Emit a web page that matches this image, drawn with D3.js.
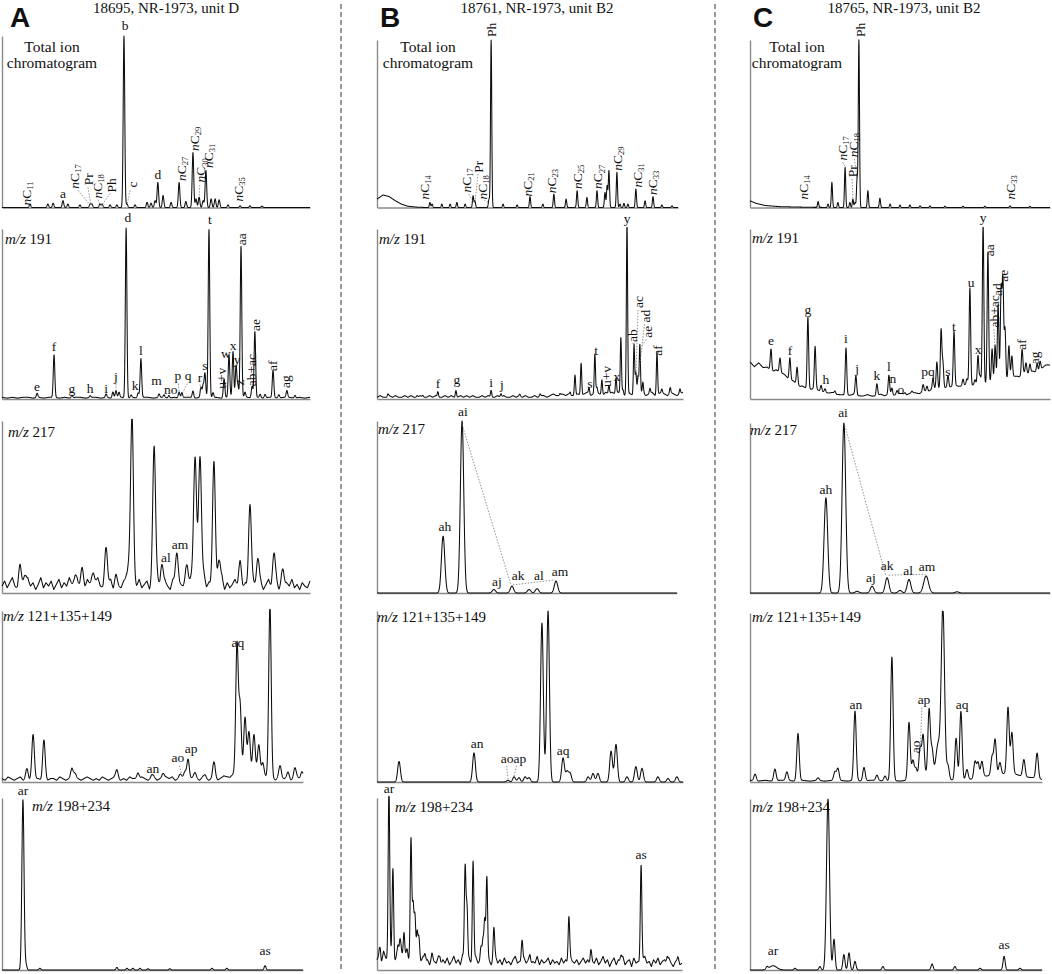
<!DOCTYPE html>
<html>
<head>
<meta charset="utf-8">
<script src="https://cdn.jsdelivr.net/npm/d3@7"></script>
<style>
  body { margin: 0; background: #fff; }
  text { font-family: "Liberation Serif", "Times New Roman", serif; fill: #111; }
</style>
</head>
<body>
<div id="chart"></div>
<script>
// ---------- data ----------
// retention position in % of the scan, height in % of the panel's full scale
var letters = ["A", "B", "C"];
var titles = ["18695, NR-1973, unit D", "18761, NR-1973, unit B2", "18765, NR-1973, unit B2"];
var rowNames = ["Total ion chromatogram", "m/z 191", "m/z 217", "m/z 121+135+149", "m/z 198+234"];

// peaks: [rt, height, (width)] ; labels: [text, rt, height, rotated] ; leads: [rt1, h1, rt2, h2]
var peaksA1 = [[9.1,2],[14.9,2],[16.6,2.5],[19.8,4],[21.4,2],[25.3,1.5],[28.6,2],[29.2,2],[31.8,2],[32.5,2],[35.1,1.5],[37.3,1.5],[39.6,100],[40.6,2],[43.2,1.5],[47.1,3],[48.4,2.5],[49.7,4],[50.6,14.6],[52.3,7],[54.9,3],[57.5,14.6],[59.7,3.5],[62.0,32],[63.0,5],[64.0,6],[65.3,4],[66.2,21.6],[67.9,5],[69.2,5],[70.5,4.5],[73.4,1.5],[77.3,1],[80.5,1],[84.4,0.8]];
var labelsA1 = [["nC11",7.8,1.2,1],["a",19.8,5.8,0],["nC17",23.4,11,1],["Pr",27.9,13,1],["nC18",30.8,5.3,1],["Ph",35.4,8.8,1],["b",40,103.5,0],["c",42.2,11.7,1],["d",50.6,16.4,0],["nC27",58.1,15.5,1],["nC29",62.3,33,1],["nC30",64.4,14.6,1],["nC31",66.9,23,1],["nC35",76.6,3.5,1]];
var leadsA1 = [[24.7,10,28.6,1.5],[27.9,11.7,28.9,1.5],[31.2,4.5,31.8,1.5],[35.1,8.2,32.5,1.5],[41.6,10,40.6,1.5],[64.2,13,64.0,6]];

var peaksA2 = [[11.4,2.5],[16.9,25],[22.7,1.5],[28.6,1],[33.8,2],[36.0,3.5],[37.0,4],[38.0,3],[40.3,100],[41.9,1.5],[44.2,3],[45.1,23],[51.0,2],[52.6,1.5],[54.2,1.5],[57.5,3.5],[58.4,3],[62.0,4],[64.6,6],[65.3,7],[65.9,14],[67.2,99],[68.5,3],[72.1,11],[73.7,25],[75.0,27],[76.0,19],[76.6,7],[77.6,89],[78.9,3],[81.2,7],[82.1,39],[83.8,2],[85.4,2],[88.0,16],[89.9,2],[92.5,4],[95.1,1.5]];
var labelsA2 = [["d",40.9,104,0],["t",67.5,103,0],["aa",77.6,90.5,1],["ae",82.1,40,1],["f",16.9,28,0],["l",45.1,26,0],["e",11.4,4.7,0],["g",22.7,3.5,0],["h",28.6,3.5,0],["i",33.8,3.5,0],["j",37.0,10.6,0],["k",43.2,5.3,0],["m",50.2,8.5,0],["no",54.8,3,0],["p",57.1,11,0],["q",60.4,11,0],["r",64.3,10,0],["s",65.9,17,0],["u+v",71.3,6,1],["w",72.7,24,0],["x",75.0,29,0],["y",76.3,20.6,0],["z",77.0,8,1],["ab+ac",80.8,7.5,1],["af",87.7,16.5,1],["ag",91.9,6.5,1]];
var leadsA2 = [[37.0,9,37.0,4.5],[57.3,9,57.5,3.5],[60.2,9,58.4,3],[64.3,8.5,64.6,6]];
var noiseA2 = [1,0.5,1,0.5,1,1,0.5,1,0.5,1,1,0.5,1,0.5,1,1,0.5,1,1,0.5,1,0.5,1,1,0.5,1,0.5,1,1,0.5,1,1,0.5,1,0.5,1,1,0.5,1,1,0.5,1,0.5,1,1,0.5,1,1,0.5,1,0.5,1,1,0.5,1,1,0.5,1,0.5,1];

var peaksA3 = [[5.8,10],[7.5,7],[23.7,7],[26,9],[29.5,9],[33.8,20],[37,5],[41.2,10],[42.2,100],[49.4,81],[51.9,12],[56.8,19],[60.1,11],[62.7,65],[63.5,10,1.5],[64.3,66],[68.8,70],[70.5,15],[77.3,12],[80.5,47],[83.1,17],[88.3,19],[91.2,10]];
var labelsA3 = [["al",53.2,18,0],["am",57.8,25.5,0]];
var noiseA3 = [4,7,3,6,9,4,2,7,5,3,8,4,6,2,5,9,3,6,4,7,2,5,8,3,6,4,9,5,2,7,4,6,3,8,5,2,6,9,4,3,7,5,8,2,6,4,3,7,9,5,2,6,4,8,3,5,7,2,6,4,9,3,5,7,4,2,8,6,3,5,4,7,2,6,9,3,5,4,8,2,6,3,7,5,4,9,2,6,3,5,8,4,7,3,6,2,5,7,4,3,6,2,5,8,3,4,7,2,5,3,6,4,8,3,5,2,6,4,3,7];

var peaksA4 = [[8.1,6],[10.1,25],[13.6,22],[22.7,5],[23.7,4],[37.3,5],[44.2,4],[48.7,2],[52.3,3],[57.8,2],[59.4,4],[60.4,12],[62.7,3],[65.9,2],[68.8,9],[76.3,74],[77.3,38],[78.9,30],[80.2,21],[81.8,21],[83.4,16],[84.7,8],[87.0,100],[90.3,7],[92.9,3],[95.1,6],[97.4,4],[79.5,6,3.5]];
var labelsA4 = [["an",49,5.3,0],["ao",57.1,11.7,0],["ap",61.4,17,0],["aq",76.6,79,0]];
var leadsA4 = [[57.6,9.5,58.6,3]];
var noiseA4 = [2,1,3,2,1,2,3,1,2,1,3,2,2,1,3,1,2,2,1,3,2,1,2,3,1,2,1,2,3,2,1,2,1,3,2,1,2,3,2,1,2,1,3,2,2,1,3,2,1,2,3,1,2,2,3,2,3,1,2,3,2,1,2,3,2,1,3,2,1,2,3,1,2,3,2,1,2,3,2,1,2,3,1,2,3,2,1,2,3,2,1,3,2,2,3,1,2,3,2,2];

var peaksA5 = [[6.8,99,0.35],[7.8,3],[12.3,1],[37.3,1.5],[40.6,1],[42.5,1],[44.8,1],[47.4,0.7],[54.5,0.7],[68.2,1],[73,1],[85.4,2.5]];
var labelsA5 = [["ar",6.8,102,0],["as",85.4,8.7,0]];

var baseB1 = [[0,5],[2,7.5],[4,6.5],[6,4],[8,2],[10,0.8],[13,0.2],[16,0]];
var peaksB1 = [[17.3,3],[18,2],[21.2,2],[23.9,2],[26.1,3],[28.8,2],[31.4,7],[32,4],[36.6,5],[37.3,100],[41.2,2],[45.8,1.5],[50,6.5],[54.2,2],[57.8,8],[61.8,5],[65.4,10],[68.6,6],[71.9,10],[74.5,9],[75.2,13],[75.8,22],[78.4,21],[79.4,2],[80.7,2.5],[82,2],[84.6,11],[87.6,4],[90.2,6.5],[93.1,1.5],[96.4,1]];
var labelsB1 = [["Ph",37.3,101.8,1],["nC14",15.4,4.8,1],["nC17",29.1,9,1],["Pr",33,20.8,1],["nC18",34.3,4.8,1],["nC21",49,6.5,1],["nC23",56.9,8.5,1],["nC25",65.4,11,1],["nC27",72,11,1],["nC29",78.4,22,1],["nC31",85,12,1],["nC33",89.9,7.5,1]];
var leadsB1 = [[30,8,31.4,3.5],[33,20,32,3],[35,4.5,36.6,3]];

var peaksB2 = [[3.6,1.5],[13.1,1],[15,1],[19.9,3],[25.8,4],[37.3,4],[40.5,2],[46.7,1],[53.3,1.2],[59.8,1],[63.1,1.5],[64.7,12],[66.7,19],[69.3,4],[71.2,23],[71.9,3],[73.5,9],[75.8,5],[78.1,9],[79.7,33],[80.4,3],[81.7,100],[84,30],[84.6,12],[85.3,10],[85.9,29],[86.9,6],[89.2,3],[91.5,25],[93.1,2],[95.8,3],[99,3]];
var labelsB2 = [["y",81.7,103.5,0],["t",71.6,26,0],["s",69.6,6.5,0],["f",19.9,6.5,0],["g",26.1,8.8,0],["i",37.3,7,0],["j",40.8,6,0],["u+v",74.8,7,1],["x",78.4,10.6,0],["ab",83.5,33.5,1],["ac",85.5,53.5,1],["ad",87.6,45,1],["ae",88.2,36,1],["af",91.5,25.5,1]];
var leadsB2 = [[85.3,52.5,84.6,12.5],[87.4,44,85.3,10.5],[88,35,85.9,29.5],[83.6,33,84,30.5]];
var noiseB2 = [1,2,1,1,2,1,2,1,1,2,1,2,1,1,2,1,1,2,1,2,1,1,2,1,2,1,1,2,1,2,1,2,1,1,2,1,2,1,1,2,1,2,1,1,2,1,2,1,2,1,1,2,1,2,2,1,2,3,2,2,3,2,3,2,2,3,2,3,4,2,3,4,3,2,4,3,4,3,4,3,2,4,3,2,4,3,4,2,3,4,2,3,4,3,2,4,3,2,3,4];

var peaksB3 = [[21.6,33],[27.8,100],[38.2,2],[44.1,4],[49.7,2],[52.3,2.5],[58.5,7]];
var labelsB3 = [["ai",28.1,103,0],["ah",22.2,36,0],["aj",39.2,4,0],["ak",46.1,7.6,0],["al",52.9,7.6,0],["am",59.8,10,0]];
var leadsB3 = [[27.8,98,43.8,4.5],[44.4,4.7,58.2,7.6]];

var peaksB4 = [[7.2,12],[31.7,17],[42.8,1],[44.8,3],[46.4,2.5],[48.4,3],[49.7,2.5],[53.9,93],[55.9,100],[60.8,14],[62.1,6],[63.1,5],[69,3],[70.6,5],[72.2,5],[76.5,18],[78.1,22],[81.7,3],[84.6,9],[86.6,8],[91.8,3],[95.1,2],[98,3]];
var labelsB4 = [["an",32.7,20,0],["ao",42.5,11,0],["ap",46.7,11,0],["aq",60.8,16,0]];
var leadsB4 = [[42.4,9.5,42.8,1.5],[45.6,9.5,44.8,3.5]];

var peaksB5 = [[1,6],[3.9,100],[5.2,52],[6.9,7],[7.5,9],[8.8,16],[9.8,5],[11.1,70],[11.8,30],[12.4,26],[13.1,18],[13.7,12],[15.7,5],[18,3],[20.6,3],[28.8,55],[29.4,32],[31.4,58],[34,9],[34.6,13],[35.2,22],[35.9,50],[38.2,19],[47.4,14],[50,5],[62.7,26],[69.9,8],[79.7,4],[86.3,57],[94.8,4],[98.4,2]];
var labelsB5 = [["ar",3.9,103,0],["as",86.3,64.5,0]];
var noiseB5 = [6,9,4,11,7,5,10,8,4,9,6,12,5,8,7,4,9,6,3,7,5,8,4,6,3,7,5,4,8,3,6,4,7,3,5,8,4,6,3,9,5,4,7,3,6,8,4,5,3,7,4,6,3,5,8,4,6,3,7,4,5,3,6,8,4,5,3,7,4,6,3,5,4,8,3,6,4,5,7,3,6,4,5,3,7,4,6,3,8,5,4,6,3,5,7,4,6,3,5,4,7,3,5,8,4,6,2,5,7,3,6,4,8,3,5,6,2,7,4,5,3,6,8,4,5,2,6,4,7,3,5,6,3,7,4,2,5,6,3,4];

var baseC1 = [[0,4],[2,2.5],[5,1.2],[10,0.5],[20,0.1],[30,0]];
var peaksC1 = [[22.7,3.5],[26,2],[27.3,15],[29.3,3],[31.7,24],[33.3,3],[34.3,5],[35,3],[35.7,17],[36.3,100],[39.3,10],[43.3,5.5],[46.7,2],[50,1.5],[53.3,1.5],[56.7,1],[60,1],[65,0.8],[71,0.8],[78.3,0.8],[86.7,1],[93.3,0.7]];
var labelsC1 = [["Ph",36.7,101.8,1],["nC14",17.7,4.8,1],["nC17",30.7,28,1],["nC18",34.3,30,1],["Pr",34,18,1],["nC33",86.7,4.8,1]];
var leadsC1 = [[30.9,27,31.7,24.5],[34.8,29,35.7,17.5],[34,17,34.3,5.5]];

var baseC2 = [[0,18.8],[11,13],[16.7,5.9],[22.3,4.1],[27.7,1.8],[39,0.6],[50,1.2],[55.7,1.8],[61,4.1],[72.3,5.9],[83.3,7.6],[89,11.8],[94.3,13.5],[99.3,17.6],[100,18]];
var peaksC2 = [[7,13],[10,8.5],[13.3,13],[15.7,10.4],[19.3,42],[21.7,24.7],[23.7,3.5],[25,2],[28.3,1.5],[32,27.7],[35.3,11],[42.3,7],[46.3,11],[47.3,4],[49,2],[51.7,1],[54,1],[57.7,4],[59,3],[61,6],[62.3,15.5],[63.7,35],[64.3,15],[66,7],[68,31.7],[71,4],[72.3,3],[73.3,57],[75,3],[76,16.7],[76.7,4],[77.7,93.5],[79.3,76.7],[80.7,20],[81.7,22],[82.7,45],[83.7,53],[84.3,58.5],[85,30],[86.3,19],[87.3,12],[90.7,14.7],[92,6],[93.3,5],[95.7,5],[96.7,5]];
var labelsC2 = [["y",77.7,104,0],["aa",79.7,84,1],["u",73.7,66,0],["ae",84.3,69,1],["ad",82.3,60.6,1],["ab+ac",81.3,42,1],["t",68,40,0],["x",76,26.5,0],["g",19.3,50,0],["e",7,31.8,0],["f",13.3,26,0],["i",32,33,0],["j",35.7,15.3,0],["h",25.3,8.8,0],["k",42.3,11,0],["l",46.3,16.5,0],["n",47.6,9.5,0],["o",50.3,2.8,0],["pq",59.3,13.5,0],["s",66,13.5,0],["af",90.3,29,1],["ag",94.7,20.5,1]];
var leadsC2 = [[81.3,41,81.7,30]];
var noiseC2 = [3,1,4,2,3,1,3,2,2,1,2,1,2,1,1,2,1,1,1,2,1,1,1,1,2,1,1,2,1,1,2,1,2,1,2,2,1,2,2,1,2,1,2,2,1,2,2,3,2,2,3,2,2,3,2,3,2,3,3,2,3,2,1,3,2,3,1,2,3,2];

var peaksC3 = [[25.3,56],[31.3,100],[35.7,1],[40.7,4],[45.7,9],[50,1.5],[53,8],[58.7,10,0.8],[69,0.7]];
var labelsC3 = [["ai",31,103.5,0],["ah",25.3,58,0],["aj",40.3,6.5,0],["ak",45.7,13.5,0],["al",52.7,10.6,0],["am",59,13,0]];
var leadsC3 = [[31.6,98.5,45.3,10],[46.2,10.5,58.5,11]];

var peaksC4 = [[1.7,4],[8.3,7],[12.3,5],[16,28],[22.7,1.5],[28.3,5],[29.3,7],[35,41],[38,8],[42.3,3],[45,3],[47.3,73],[53,34],[54.3,11],[55.3,6],[56.7,17],[57.7,24],[59.7,38],[60.7,14],[62.7,19,0.7],[64.3,100,0.55],[66,8],[68.7,25],[70.3,41],[72.3,6],[75,10],[76,9],[77.3,9],[80.7,11],[81.7,21],[83.3,7],[86,39],[87.3,24],[91.3,10],[95.7,15],[60,4,3],[85,4,6]];
var labelsC4 = [["an",35.3,43,0],["ao",55,17,1],["ap",58,46,0],["aq",70.7,43,0]];
var leadsC4 = [[57.3,44,56.7,17.5]];
var noiseC4 = [1,0.5,1,0.5,1,1,0.5,1,0.5,1,0.5,1,1,0.5,1,0.5,1,1,0.5,1,0.5,1,1,0.5,1,0.5,1,1,0.5,1,1,1.5,1,0.5,1,1.5,1,1,1.5,1];

var peaksC5 = [[5.7,1.5],[7.7,2.5,1.2],[15,1],[23.3,2],[26,100,0.5],[28,18],[31.3,9],[33,10],[35,5],[44.3,2],[60.7,3.5],[68.3,2],[76.7,1],[84.7,8],[90,1]];
var labelsC5 = [["ar",7.7,8.8,0],["as",84.7,12,0]];

// ---------- layout ----------
var width = 1052, height = 974;
var colLeft = [2, 377, 750], colWidth = [308, 306, 300];
var rowTop = [[36, 40, 40], [229, 229, 229], [421, 421, 423], [611, 611, 613], [798, 798, 799]];
var rowBase = [207.5, 399, 593, 782, 970];
var nameAt = [
  [null, [3, 244], [6, 437], [1, 621], [30, 811]],
  [null, [2, 244], [1, 434], [0, 622], [18, 812]],
  [null, [2, 243], [0, 435], [2, 622], [2, 812]]
];
var ticCenter = [52, 428, 797];

var panels = [
  {c:0, r:0, peaks:peaksA1, labels:labelsA1, leads:leadsA1, w:0.25, end:100},
  {c:0, r:1, peaks:peaksA2, labels:labelsA2, leads:leadsA2, noise:noiseA2, w:0.25, end:100},
  {c:0, r:2, peaks:peaksA3, labels:labelsA3, noise:noiseA3, w:0.45, end:100},
  {c:0, r:3, peaks:peaksA4, labels:labelsA4, leads:leadsA4, noise:noiseA4, w:0.4, end:97.7},
  {c:0, r:4, peaks:peaksA5, labels:labelsA5, w:0.3, end:97.7},
  {c:1, r:0, peaks:peaksB1, labels:labelsB1, leads:leadsB1, base:baseB1, w:0.2, end:98.4},
  {c:1, r:1, peaks:peaksB2, labels:labelsB2, leads:leadsB2, noise:noiseB2, w:0.2, end:100},
  {c:1, r:2, peaks:peaksB3, labels:labelsB3, leads:leadsB3, w:0.55, end:98},
  {c:1, r:3, peaks:peaksB4, labels:labelsB4, leads:leadsB4, w:0.45, end:100},
  {c:1, r:4, peaks:peaksB5, labels:labelsB5, noise:noiseB5, w:0.25, end:99.7},
  {c:2, r:0, peaks:peaksC1, labels:labelsC1, leads:leadsC1, base:baseC1, w:0.2, end:100},
  {c:2, r:1, peaks:peaksC2, labels:labelsC2, leads:leadsC2, noise:noiseC2, base:baseC2, w:0.25, end:100},
  {c:2, r:2, peaks:peaksC3, labels:labelsC3, leads:leadsC3, w:0.6, end:100},
  {c:2, r:3, peaks:peaksC4, labels:labelsC4, leads:leadsC4, noise:noiseC4, w:0.4, end:97.3},
  {c:2, r:4, peaks:peaksC5, labels:labelsC5, w:0.35, end:97.3}
];

var svg = d3.select("#chart").append("svg")
    .attr("width", width)
    .attr("height", height);

// dashed column separators
[341, 715].forEach(function(xs) {
  svg.append("line")
    .attr("x1", xs).attr("x2", xs)
    .attr("y1", 4).attr("y2", 972)
    .attr("stroke", "#333")
    .attr("stroke-width", 1)
    .attr("stroke-dasharray", "5,3");
});

// panel letters and titles
letters.forEach(function(l, i) {
  svg.append("text")
    .attr("x", colLeft[i] + (i == 0 ? 8 : 3))
    .attr("y", 27)
    .style("font-family", "'Liberation Sans', Arial, sans-serif")
    .style("font-weight", "bold")
    .style("font-size", "28px")
    .text(l);
  svg.append("text")
    .attr("x", [166, 537, 904][i])
    .attr("y", 13)
    .attr("text-anchor", "middle")
    .style("font-size", "15px")
    .text(titles[i]);
  var t = svg.append("text")
    .attr("text-anchor", "middle")
    .style("font-size", "15.5px");
  t.append("tspan").attr("x", ticCenter[i]).attr("y", 52).text("Total ion");
  t.append("tspan").attr("x", ticCenter[i]).attr("y", 68).text("chromatogram");
});

// write a peak label, with italic n and subscript carbon number
function writeLabel(sel, txt) {
  var m = /^nC(\d+)$/.exec(txt);
  if (m) {
    sel.append("tspan").style("font-style", "italic").text("n");
    sel.append("tspan").text("C");
    sel.append("tspan").attr("dy", "0.3em").style("font-size", "8.5px").text(m[1]);
  } else {
    sel.text(txt);
  }
}

// build the trace from the peak table
function traceOf(p) {
  var base = p.base
    ? d3.scaleLinear().domain(p.base.map(function(d) { return d[0]; }))
        .range(p.base.map(function(d) { return d[1]; })).clamp(true)
    : function() { return 0; };
  var jag = function() { return 0; };
  if (p.noise) {
    var sp = p.end / (p.noise.length - 1);
    jag = d3.scaleLinear()
      .domain(p.noise.map(function(v, i) { return i * sp; }))
      .range(p.noise).clamp(true);
  }
  var pk = p.peaks.map(function(d) { return [d[0], d[1], d[2] || p.w]; });
  var pts = [], step = 0.05, n = Math.round(p.end / step);
  for (var i = 0; i <= n; i++) {
    var t = i * step, v = base(t) + jag(t);
    pk.forEach(function(q) {
      var d = (t - q[0]) / q[2];
      if (d > -5 && d < 5) v += q[1] * Math.exp(-0.5 * d * d);
    });
    pts.push([t, Math.min(v, 101)]);
  }
  return pts;
}

panels.forEach(function(p) {
  var x = d3.scaleLinear().domain([0, 100]).range([colLeft[p.c], colLeft[p.c] + colWidth[p.c]]);
  var y = d3.scaleLinear().domain([0, 100]).range([rowBase[p.r], rowTop[p.r][p.c]]);
  var g = svg.append("g");

  // axes: bare left and bottom lines
  var xs = x.copy().domain([0, p.end]).range([x(0), x(p.end)]);
  g.append("g")
    .attr("transform", "translate(" + x(0) + ",0)")
    .call(d3.axisLeft(y).ticks(0).tickSizeOuter(0));
  g.append("g")
    .attr("transform", "translate(0," + y(0) + ")")
    .call(d3.axisBottom(xs).ticks(0).tickSizeOuter(0));
  g.selectAll(".domain").attr("stroke", "#8a8a8a").attr("stroke-width", 1.4);

  // trace
  g.append("path")
    .datum(traceOf(p))
    .attr("fill", "none")
    .attr("stroke", "#0d0d0d")
    .attr("stroke-width", 1.05)
    .attr("stroke-linejoin", "round")
    .attr("d", d3.line().x(function(d) { return x(d[0]); }).y(function(d) { return y(d[1]); }));

  // dotted leader lines
  (p.leads || []).forEach(function(l) {
    g.append("line")
      .attr("x1", x(l[0])).attr("y1", y(l[1]))
      .attr("x2", x(l[2])).attr("y2", y(l[3]))
      .attr("stroke", "#777")
      .attr("stroke-width", 0.8)
      .attr("stroke-dasharray", "1.5,1.5");
  });

  // peak labels
  (p.labels || []).forEach(function(l) {
    var t = g.append("text").style("font-size", "13.5px");
    if (l[3]) {
      t.attr("transform", "translate(" + x(l[1]) + "," + y(l[2]) + ") rotate(-90)")
        .attr("dy", "0.35em");
    } else {
      t.attr("x", x(l[1])).attr("y", y(l[2])).attr("text-anchor", "middle");
    }
    writeLabel(t, l[0]);
  });

  // m/z caption
  var at = nameAt[p.c][p.r];
  if (at) {
    var parts = rowNames[p.r].split(" ");
    var cap = g.append("text")
      .attr("x", colLeft[p.c] + at[0])
      .attr("y", at[1])
      .style("font-size", "15px");
    cap.append("tspan").style("font-style", "italic").text(parts[0]);
    cap.append("tspan").text(" " + parts[1]);
  }
});
</script>
</body>
</html>
